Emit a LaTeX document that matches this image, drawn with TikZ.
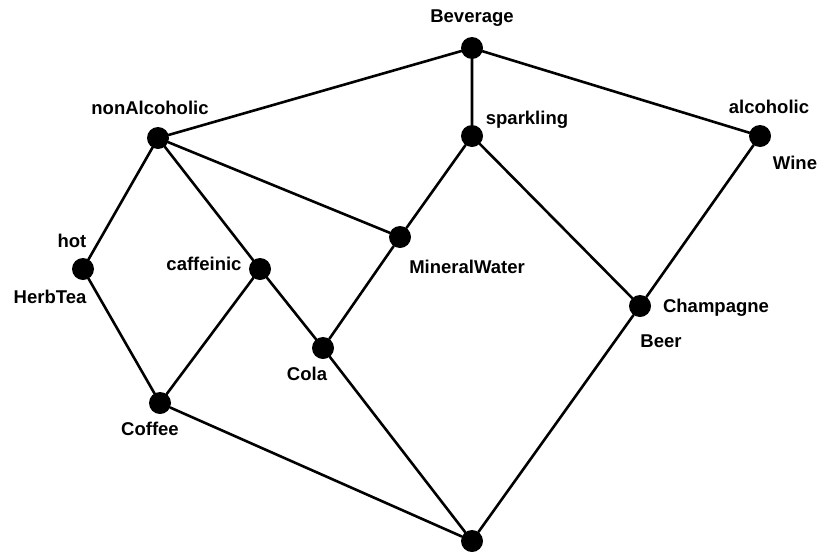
\documentclass[tikz,border=0pt]{standalone}
\usepackage{fontspec}
\setmainfont{Liberation Sans}
\usetikzlibrary{positioning}
\tikzset{dot/.style={circle,fill=black,inner sep=0pt,minimum size=22pt},
  lbl/.style={font=\fontsize{18.5}{20}\selectfont\bfseries,inner sep=0pt},
  edge/.style={line width=2.6pt}}

\begin{document}
\begin{tikzpicture}[x=1pt,y=-1pt,line cap=round,line join=round]
  \useasboundingbox (0,0) rectangle (819,552);
  \node[dot] (bev) at (472,48) {};\node[dot] (nonalc) at (158,138) {};\node[dot] (spark) at (472,136) {};\node[dot] (alc) at (760,136) {};
  \node[dot] (hot) at (83,269) {};\node[dot] (caff) at (260,269) {};\node[dot] (water) at (400,237) {};\node[dot] (champ) at (640,306) {};
  \node[dot] (cola) at (323,348) {};\node[dot] (coffee) at (160,403) {};\node[dot] (bottom) at (472,541) {};
  \draw[edge] (bev)--(nonalc) (bev)--(spark) (bev)--(alc);
  \draw[edge] (nonalc)--(hot) (nonalc)--(caff) (nonalc)--(water);
  \draw[edge] (spark)--(water) (spark)--(champ) (alc)--(champ);
  \draw[edge] (hot)--(coffee) (caff)--(coffee) (caff)--(cola) (water)--(cola);
  \draw[edge] (coffee)--(bottom) (cola)--(bottom) (champ)--(bottom);
  \node[lbl] (bevL) at (472,18) {Beverage};\node[lbl] (nonalcL) at (150,108) {nonAlcoholic};
  \node[lbl] (sparkL) at (527,120) {sparkling};\node[lbl] (alcL) at (769,107) {alcoholic};\node[lbl] (wineL) at (795,163) {Wine};
  \node[lbl] (hotL) at (72,241) {hot};\node[lbl] (herbL) at (50,297) {HerbTea};\node[lbl] (caffL) at (204,264) {caffeinic};
  \node[lbl] (waterL) at (467,267) {MineralWater};\node[lbl] (champL) at (716,308) {Champagne};\node[lbl] (beerL) at (661,341) {Beer};
  \node[lbl] (colaL) at (307,374) {Cola};\node[lbl] (coffeeL) at (150,429) {Coffee};
\end{tikzpicture}
\end{document}
